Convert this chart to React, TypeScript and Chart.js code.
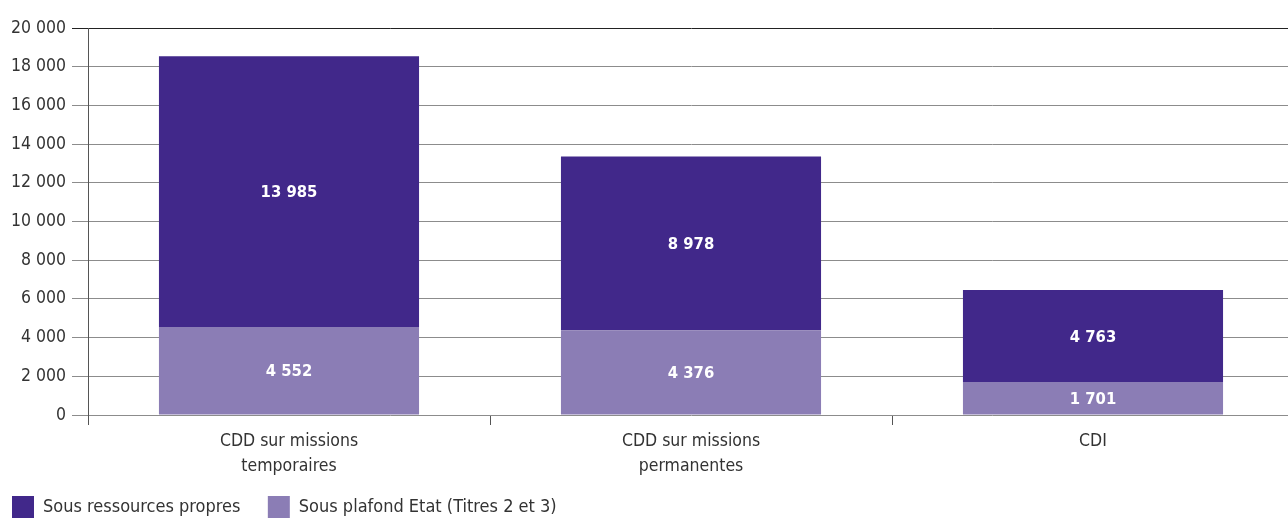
import React, { useEffect, useRef } from "react";
import { Chart, registerables } from "chart.js";

Chart.register(...registerables);

const categories: string[][] = [
  ["CDD sur missions", "temporaires"],
  ["CDD sur missions", "permanentes"],
  ["CDI"],
];
const seriesNames = ["Sous ressources propres", "Sous plafond Etat (Titres 2 et 3)"];
const plafondEtat = [4552, 4376, 1701];
const ressourcesPropres = [13985, 8978, 4763];
const yTicks = [0, 2000, 4000, 6000, 8000, 10000, 12000, 14000, 16000, 18000, 20000];

const DARK = "#41288a";
const LIGHT = "#8b7db5";
const FONT = '"Liberation Sans Narrow", "DejaVu Sans Condensed", "Roboto Condensed", Roboto, sans-serif';

const fmt = (v: number) => String(v).replace(/\B(?=(\d{3})+(?!\d))/g, " ");

const valueLabels = {
  id: "valueLabels",
  afterDatasetsDraw(chart: any) {
    const ctx = chart.ctx;
    ctx.save();
    ctx.fillStyle = "#ffffff";
    ctx.font = `bold 16.5px ${FONT}`;
    ctx.textAlign = "center";
    ctx.textBaseline = "middle";
    chart.data.datasets.forEach((ds: any, i: number) => {
      const meta = chart.getDatasetMeta(i);
      meta.data.forEach((el: any, j: number) => {
        const { x, y, base } = el.getProps(["x", "y", "base"], true);
        ctx.fillText(fmt(ds.data[j]), x, (y + base) / 2 + 1.5);
      });
    });
    ctx.restore();
  },
};

export default function App() {
  const ref = useRef<HTMLCanvasElement>(null);
  useEffect(() => {
    if (!ref.current) return;
    const chart = new Chart(ref.current, {
      type: "bar",
      data: {
        labels: categories,
        datasets: [
          {
            label: seriesNames[0],
            data: ressourcesPropres,
            backgroundColor: DARK,
            order: 1,
          },
          {
            label: seriesNames[1],
            data: plafondEtat,
            backgroundColor: LIGHT,
            order: 0,
          },
        ],
      },
      options: {
        responsive: false,
        animation: false,
        devicePixelRatio: 1,
        layout: { padding: { top: 28, right: 2, left: 0, bottom: 0 } },
        datasets: { bar: { barPercentage: 0.647, categoryPercentage: 1 } },
        plugins: {
          legend: {
            position: "bottom",
            align: "start",
            labels: {
              boxWidth: 22,
              boxHeight: 22,
              padding: 12,
              color: "#333",
              font: { family: FONT, size: 18 },
              generateLabels: (chart: any) => {
                const items = Chart.defaults.plugins.legend.labels.generateLabels(chart);
                return items
                  .sort((a: any, b: any) => a.datasetIndex - b.datasetIndex)
                  .map((it: any, i: number) => ({ ...it, text: i === 0 ? it.text + "   " : it.text }));
              },
            },
          },
          tooltip: { enabled: false },
        },
        scales: {
          x: {
            stacked: true,
            offset: true,
            afterFit: (s: any) => {
              s.height = 69;
            },
            grid: {
              offset: true,
              drawOnChartArea: false,
              drawTicks: true,
              tickLength: 10,
              color: "#555",
            },
            border: { display: false },
            ticks: {
              color: "#333",
              padding: 4,
              font: { family: FONT, size: 17.5, lineHeight: 1.43 },
              maxRotation: 0,
            },
          },
          y: {
            stacked: true,
            min: 0,
            max: 20000,
            afterBuildTicks: (s: any) => {
              s.ticks = yTicks.map((v) => ({ value: v }));
            },
            afterFit: (s: any) => {
              s.width = 88;
            },
            grid: {
              color: (c: any) => (c.tick && c.tick.value === 20000 ? "#222" : "#8c8c8c"),
              lineWidth: 1,
              tickLength: 16,
            },
            border: { display: true, color: "#555" },
            ticks: {
              color: "#333",
              padding: 6,
              font: { family: FONT, size: 17.5 },
              callback: (v: any) => fmt(Number(v)),
            },
          },
        },
      },
      plugins: [valueLabels],
    });
    return () => chart.destroy();
  }, []);
  return (
    <div style={{ position: "fixed", left: 0, top: 0, width: 1288, height: 518, overflow: "hidden", background: "#fff" }}>
      <canvas ref={ref} width={1296} height={528} />
    </div>
  );
}
